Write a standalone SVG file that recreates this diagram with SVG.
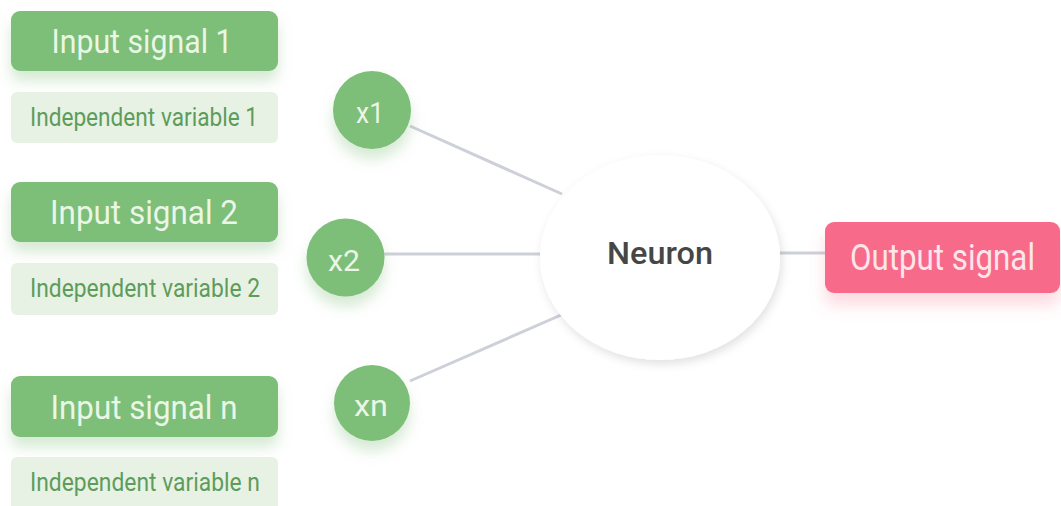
<svg xmlns="http://www.w3.org/2000/svg" width="1061" height="506" viewBox="0 0 1061 506">
<defs>
<style>
.sig{fill:#7dbe78}
.var{fill:#e7f2e5}
.st{font-family:Roboto,"Liberation Sans",sans-serif;font-size:33px;fill:#eaf6e6;text-anchor:middle}
.vt{font-family:Roboto,"Liberation Sans",sans-serif;font-size:25px;fill:#5e9c5b;text-anchor:middle}
.xt{font-family:Roboto,"Liberation Sans",sans-serif;font-size:30px;fill:#eaf6e6;text-anchor:middle}
.conn{stroke:#cdd0d8;stroke-width:3;fill:none}
</style>
<filter id="gshadow" x="-30%" y="-30%" width="160%" height="190%">
<feGaussianBlur in="SourceAlpha" stdDeviation="7" result="b"/>
<feOffset in="b" dy="10" result="o"/>
<feFlood flood-color="#6bb366" flood-opacity="0.28"/>
<feComposite in2="o" operator="in" result="s"/>
<feMerge><feMergeNode in="s"/><feMergeNode in="SourceGraphic"/></feMerge>
</filter>
<filter id="pshadow" x="-20%" y="-30%" width="140%" height="190%">
<feGaussianBlur in="SourceAlpha" stdDeviation="8" result="b"/>
<feOffset in="b" dy="12" result="o"/>
<feFlood flood-color="#f76b8a" flood-opacity="0.25"/>
<feComposite in2="o" operator="in" result="s"/>
<feMerge><feMergeNode in="s"/><feMergeNode in="SourceGraphic"/></feMerge>
</filter>
<filter id="nshadow" x="-20%" y="-20%" width="140%" height="150%">
<feGaussianBlur in="SourceAlpha" stdDeviation="5" result="b"/>
<feOffset in="b" dx="2" dy="4" result="o"/>
<feFlood flood-color="#000" flood-opacity="0.12"/>
<feComposite in2="o" operator="in" result="s"/>
<feMerge><feMergeNode in="s"/><feMergeNode in="SourceGraphic"/></feMerge>
</filter>
</defs>
<rect width="1061" height="506" fill="#ffffff"/>
<g id="connectors">
<line class="conn" x1="410" y1="126" x2="562" y2="194"/>
<line class="conn" x1="384" y1="254" x2="540" y2="254"/>
<line class="conn" x1="410" y1="381" x2="561" y2="315"/>
<line class="conn" x1="780" y1="253" x2="826" y2="253"/>
</g>
<g id="input1">
<rect class="sig" x="11" y="11" width="267" height="60" rx="9" filter="url(#gshadow)"/>
<text class="st" x="142" y="53" textLength="181" lengthAdjust="spacingAndGlyphs">Input signal 1</text>
</g>
<g id="var1">
<rect class="var" x="11" y="92" width="267" height="51" rx="6"/>
<text class="vt" x="144" y="126" textLength="228" lengthAdjust="spacingAndGlyphs">Independent variable 1</text>
</g>
<g id="input2">
<rect class="sig" x="11" y="182" width="267" height="60" rx="9" filter="url(#gshadow)"/>
<text class="st" x="144" y="224" textLength="188" lengthAdjust="spacingAndGlyphs">Input signal 2</text>
</g>
<g id="var2">
<rect class="var" x="11" y="263" width="267" height="52" rx="6"/>
<text class="vt" x="145" y="297" textLength="230" lengthAdjust="spacingAndGlyphs">Independent variable 2</text>
</g>
<g id="inputn">
<rect class="sig" x="11" y="376" width="267" height="61" rx="9" filter="url(#gshadow)"/>
<text class="st" x="144" y="418.5" textLength="187" lengthAdjust="spacingAndGlyphs">Input signal n</text>
</g>
<g id="varn">
<rect class="var" x="11" y="457" width="267" height="55" rx="6"/>
<text class="vt" x="145" y="491" textLength="230" lengthAdjust="spacingAndGlyphs">Independent variable n</text>
</g>
<g id="x1">
<circle class="sig" cx="372" cy="110" r="39" filter="url(#gshadow)"/>
<text class="xt" x="370" y="123" textLength="28" lengthAdjust="spacingAndGlyphs">x1</text>
</g>
<g id="x2">
<circle class="sig" cx="345.5" cy="257.5" r="39" filter="url(#gshadow)"/>
<text class="xt" x="344" y="270.5" textLength="32" lengthAdjust="spacingAndGlyphs">x2</text>
</g>
<g id="xn">
<circle class="sig" cx="372" cy="403" r="38" filter="url(#gshadow)"/>
<text class="xt" x="371" y="416" textLength="34" lengthAdjust="spacingAndGlyphs">xn</text>
</g>
<g id="neuron">
<ellipse cx="660" cy="257.5" rx="120" ry="102.5" fill="#ffffff" filter="url(#nshadow)"/>
<text x="660" y="264" font-family="Roboto,'Liberation Sans',sans-serif" font-size="31" font-weight="500" fill="#464646" text-anchor="middle" textLength="106" lengthAdjust="spacingAndGlyphs">Neuron</text>
</g>
<g id="output">
<rect x="825" y="222" width="235" height="71" rx="9" fill="#f76b8a" filter="url(#pshadow)"/>
<text x="942.5" y="270" font-family="Roboto,'Liberation Sans',sans-serif" font-size="36" fill="#fde6ea" text-anchor="middle" textLength="185" lengthAdjust="spacingAndGlyphs">Output signal</text>
</g>
</svg>
